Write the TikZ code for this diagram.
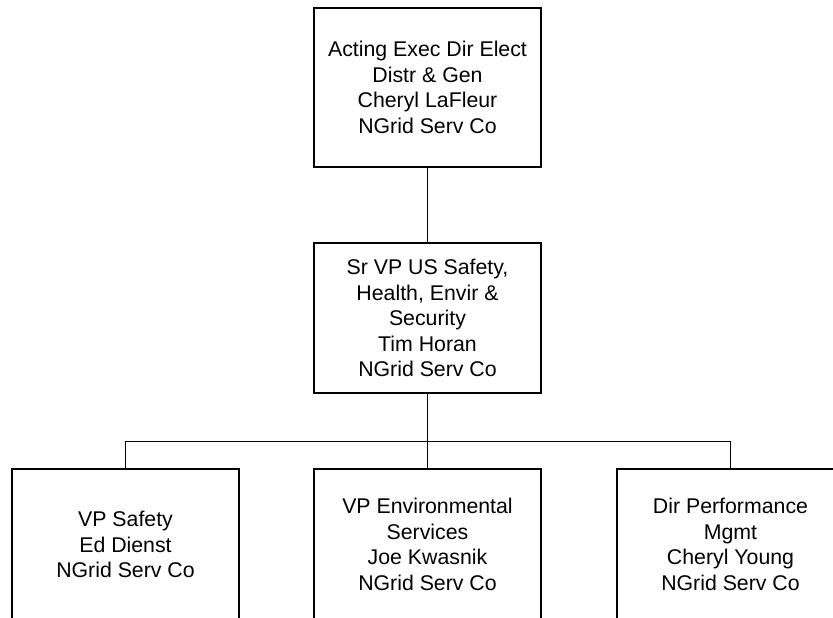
\documentclass[tikz,border=0pt]{standalone}
\usepackage{fontspec}
\setmainfont{Liberation Sans}
\begin{document}
\begin{tikzpicture}[x=1pt,y=1pt,
  orgbox/.style={draw=black, line width=1.9pt, fill=white, inner sep=0pt,
    minimum width=227pt, align=center,
    font=\fontsize{21.3}{25.5}\selectfont},
  conn/.style={draw=black, line width=1.9pt}]
\useasboundingbox (0,0) rectangle (833,-618);
\node[orgbox, minimum height=159pt] (top) at (427.5,-87.5)
  {Acting Exec Dir Elect\\Distr \& Gen\\Cheryl LaFleur\\NGrid Serv Co};
\node[orgbox, minimum height=150pt] (mid) at (427.5,-318)
  {Sr VP US Safety,\\Health, Envir \&\\Security\\Tim Horan\\NGrid Serv Co};
\node[orgbox, minimum height=151pt] (b1) at (125.5,-544.5)
  {VP Safety\\Ed Dienst\\NGrid Serv Co};
\node[orgbox, minimum height=151pt] (b2) at (427.5,-544.5)
  {VP Environmental\\Services\\Joe Kwasnik\\NGrid Serv Co};
\node[orgbox, minimum height=151pt] (b3) at (730.5,-544.5)
  {Dir Performance\\Mgmt\\Cheryl Young\\NGrid Serv Co};
\coordinate (bus) at (427.5,-441.5);
\draw[conn] (top) -- (mid);
\draw[conn] (mid) -- (b2);
\draw[conn] (b1.north) |- (bus) -| (b3.north);
\end{tikzpicture}
\end{document}
